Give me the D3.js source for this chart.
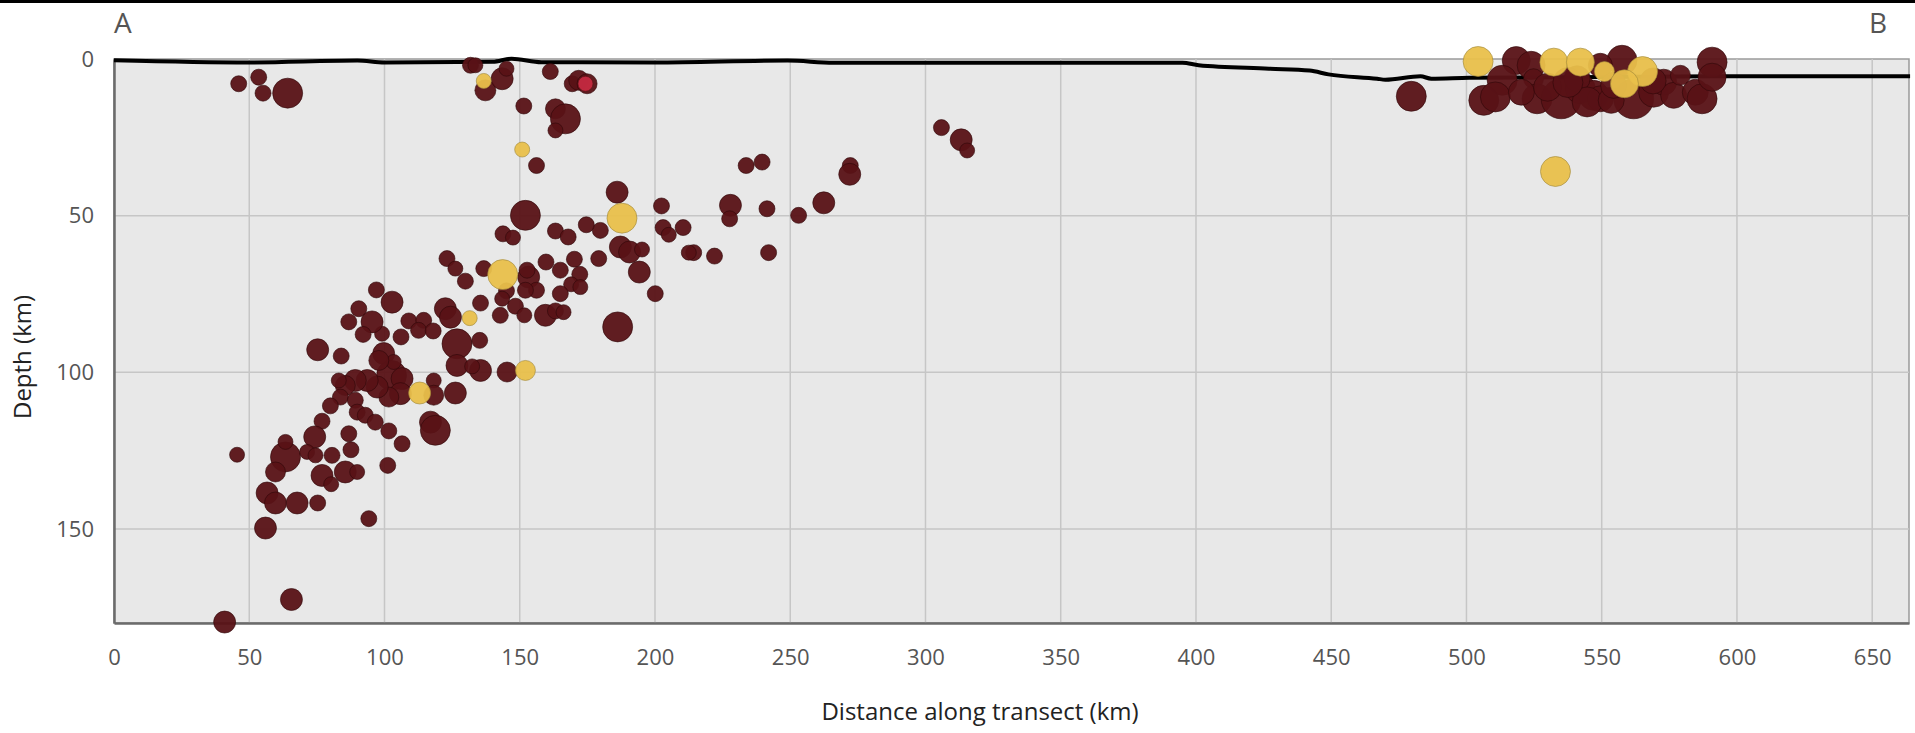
<!DOCTYPE html>
<html>
<head>
<meta charset="utf-8">
<script src="https://cdn.jsdelivr.net/npm/d3@7"></script>
<style>
  body { margin: 0; background: #fff; }
  #chart text { font-family: "Open Sans", sans-serif; }
</style>
</head>
<body>
<div id="chart"></div>
<script>
const xTicks = [0, 50, 100, 150, 200, 250, 300, 350, 400, 450, 500, 550, 600, 650];
const yTicks = [0, 50, 100, 150];

// surface profile along the transect: [km, depth]
const surfaceProfile = [
  [0, 0.4], [50, 1.1], [90, 0.5], [100, 1.1], [140, 0.9], [147, -0.1], [158, 1.0],
  [200, 1.1], [249, 0.5], [266, 1.2], [395, 1.2], [401, 2.0], [427, 3.1], [442, 3.7],
  [449, 4.9], [467, 6.3], [470, 6.6], [483, 5.5], [487, 6.3], [501, 6.0], [592, 5.5],
  [664, 5.5]
];

// earthquakes: [km, depth, magnitude]
const darkQuakes = [
  [46.1, 7.9, 4.6], [53.5, 5.8, 4.6], [55.1, 10.9, 4.6], [64.2, 10.9, 6.0],
  [131.8, 2.0, 4.6], [133.6, 2.0, 4.5], [137.3, 10.0, 5.1], [143.5, 6.3, 5.2],
  [145.1, 3.1, 4.5], [161.3, 4.0, 4.6], [151.5, 15.0, 4.6], [169.4, 7.9, 4.6],
  [171.8, 6.8, 5.0], [174.9, 7.9, 5.0], [163.2, 15.9, 5.0], [166.9, 19.1, 6.0],
  [163.2, 22.8, 4.5], [156.2, 34.0, 4.6], [186.0, 42.5, 5.2],
  [305.9, 21.9, 4.6], [313.2, 25.8, 5.2], [315.4, 29.2, 4.5], [272.2, 34.0, 4.6],
  [272.0, 36.8, 5.2], [233.7, 34.0, 4.6], [239.6, 32.9, 4.6], [262.4, 45.9, 5.2],
  [253.1, 49.9, 4.6], [241.4, 47.8, 4.6], [227.9, 46.7, 5.2], [227.6, 51.0, 4.6],
  [242.0, 61.8, 4.6], [222.0, 62.9, 4.6], [214.3, 61.8, 4.6], [212.5, 61.8, 4.5],
  [202.4, 46.9, 4.6], [203.0, 53.8, 4.6], [205.1, 56.1, 4.5], [210.4, 53.8, 4.6],
  [200.1, 74.9, 4.6], [179.8, 54.7, 4.6], [174.6, 52.9, 4.6], [187.2, 60.0, 5.2],
  [190.6, 61.6, 5.2], [195.2, 60.8, 4.5], [194.2, 68.0, 5.2], [179.2, 63.7, 4.6],
  [152.1, 49.9, 6.0], [143.8, 55.8, 4.6], [147.5, 57.0, 4.5], [163.2, 54.9, 4.6],
  [167.9, 56.8, 4.6], [186.2, 85.5, 6.0], [123.1, 63.7, 4.6], [126.2, 66.9, 4.5],
  [129.9, 70.9, 4.6], [136.7, 66.9, 4.6], [153.3, 69.6, 5.2], [152.7, 67.4, 4.6],
  [156.2, 73.8, 4.6], [152.1, 73.8, 4.6], [145.1, 74.0, 4.6], [143.5, 76.5, 4.5],
  [148.4, 78.9, 4.6], [151.7, 81.8, 4.5], [142.8, 81.8, 4.6], [135.5, 77.9, 4.6],
  [159.7, 64.8, 4.6], [165.0, 67.4, 4.6], [170.2, 63.9, 4.6], [172.2, 68.7, 4.6],
  [169.0, 71.9, 4.5], [172.4, 72.8, 4.5], [165.0, 74.9, 4.6], [159.5, 81.8, 5.2],
  [163.2, 80.4, 4.6], [166.2, 80.8, 4.5], [102.8, 77.6, 5.2], [122.5, 79.7, 5.2],
  [109.0, 83.6, 4.6], [114.5, 83.4, 4.6], [112.6, 86.6, 4.6], [118.0, 86.8, 4.6],
  [106.1, 88.7, 4.6], [124.4, 82.4, 5.2], [126.8, 90.9, 6.0], [135.2, 89.8, 4.6],
  [145.3, 99.9, 5.0], [126.8, 97.8, 5.2], [135.5, 99.4, 5.2], [99.7, 94.0, 5.2],
  [99.1, 87.7, 4.5], [102.6, 101.0, 6.0], [103.4, 96.7, 4.5], [97.0, 73.7, 4.6],
  [90.5, 79.7, 4.6], [95.4, 83.9, 5.2], [86.8, 83.9, 4.6], [92.1, 87.9, 4.6],
  [75.3, 92.8, 5.2], [84.0, 94.8, 4.6], [132.4, 98.1, 4.5], [97.9, 96.2, 5.0],
  [106.5, 102.0, 5.2], [105.9, 106.8, 5.2], [101.6, 107.9, 5.0], [97.3, 104.7, 5.2],
  [93.6, 102.6, 5.2], [89.2, 102.6, 5.2], [85.5, 104.2, 5.0], [83.1, 102.6, 4.5],
  [118.2, 102.6, 4.5], [118.2, 107.3, 5.0], [126.2, 106.6, 5.2], [83.7, 107.9, 4.6],
  [89.2, 108.9, 4.6], [80.0, 110.7, 4.6], [89.9, 112.7, 4.6], [92.9, 113.7, 4.6],
  [96.6, 115.9, 4.6], [117.0, 115.9, 5.2], [118.8, 118.5, 6.0], [76.9, 115.6, 4.6],
  [101.6, 118.7, 4.6], [106.5, 122.8, 4.6], [74.2, 120.6, 5.2], [86.8, 119.6, 4.6],
  [87.6, 124.7, 4.6], [63.4, 127.0, 6.0], [45.5, 126.3, 4.5], [80.6, 126.5, 4.6],
  [71.4, 125.4, 4.5], [63.4, 122.2, 4.5], [101.2, 129.7, 4.6],
  [74.5, 126.5, 4.5], [59.7, 131.8, 5.0], [56.6, 138.5, 5.2], [59.7, 141.7, 5.2],
  [67.7, 141.7, 5.2], [75.3, 141.7, 4.6], [56.0, 149.7, 5.2], [94.2, 146.7, 4.6],
  [65.6, 172.5, 5.2], [40.9, 179.7, 5.2], [76.9, 132.9, 5.2], [80.3, 135.7, 4.5],
  [85.5, 131.8, 5.2], [89.9, 131.8, 4.5],
  [479.6, 11.9, 6.0], [518.4, 0.5, 5.8], [523.9, 2.0, 5.8], [513.2, 6.8, 6.0],
  [506.4, 13.2, 6.0], [510.7, 12.1, 6.0], [524.8, 6.3, 5.0], [526.1, 12.7, 6.0],
  [535.0, 12.7, 7.0], [542.1, 9.5, 6.0], [547.0, 11.6, 6.0], [549.5, 12.7, 5.6],
  [557.5, 0.4, 6.0], [561.8, 12.7, 7.0], [569.2, 10.6, 6.0], [572.9, 7.4, 5.6],
  [576.6, 11.6, 5.6], [579.1, 5.2, 5.0], [584.6, 10.6, 5.6], [587.1, 12.7, 6.0],
  [590.8, 1.0, 6.0], [590.8, 5.8, 5.8], [540.9, 6.3, 5.6], [544.6, 13.7, 6.0],
  [553.5, 13.2, 5.6], [520.3, 10.6, 5.6], [549.5, 2.0, 5.4], [569.0, 7.0, 5.6],
  [554.4, 8.4, 5.6], [530.0, 9.0, 5.8], [537.5, 7.5, 6.0]
];

const yellowQuakes = [
  [136.7, 7.0, 4.5], [150.9, 28.9, 4.5], [187.8, 50.8, 6.0], [143.7, 68.8, 6.0],
  [131.5, 82.7, 4.5], [152.1, 99.4, 5.0], [113.0, 106.6, 5.2],
  [504.3, 0.8, 6.0], [532.9, 35.9, 6.0], [532.3, 1.0, 5.8], [542.1, 1.0, 5.8],
  [551.0, 4.0, 5.0], [565.1, 4.0, 6.0], [558.4, 7.9, 5.8]
];

const redQuakes = [
  [174.3, 7.9, 4.5]
];

function draw() {
  const w = 1915, h = 733;
  const margin = { top: 59, right: 6, bottom: 110, left: 114 };
  const innerW = w - margin.left - margin.right;
  const innerH = h - margin.top - margin.bottom;

  const xScale = d3.scaleLinear().domain([0, 663.6]).range([0, innerW]);
  const yScale = d3.scaleLinear().domain([0, 180]).range([0, innerH]);
  const rScale = d3.scaleLinear().domain([4.5, 7]).range([7.5, 20]);

  const svg = d3.select("#chart").append("svg")
    .attr("width", w)
    .attr("height", h);

  // black rule across the top
  svg.append("rect")
    .attr("x", 0).attr("y", 0)
    .attr("width", w).attr("height", 3)
    .attr("fill", "#000");

  svg.append("text")
    .attr("x", margin.left).attr("y", 33)
    .attr("fill", "#555")
    .style("font-size", "28px")
    .text("A");

  svg.append("text")
    .attr("x", 1887).attr("y", 33)
    .attr("text-anchor", "end")
    .attr("fill", "#555")
    .style("font-size", "28px")
    .text("B");

  const g = svg.append("g")
    .attr("transform", `translate(${margin.left},${margin.top})`);

  g.append("rect")
    .attr("width", innerW).attr("height", innerH)
    .attr("fill", "#e8e8e8")
    .attr("stroke", "#9a9a9a")
    .attr("stroke-width", 1.5);

  // grid
  g.append("g")
    .selectAll("line")
    .data(xTicks.filter(d => d > 0))
    .join("line")
    .attr("x1", d => xScale(d)).attr("x2", d => xScale(d))
    .attr("y1", 0).attr("y2", innerH)
    .attr("stroke", "#c6c6c6")
    .attr("stroke-width", 1.5);

  g.append("g")
    .selectAll("line")
    .data(yTicks.filter(d => d > 0))
    .join("line")
    .attr("x1", 0).attr("x2", innerW)
    .attr("y1", d => yScale(d)).attr("y2", d => yScale(d))
    .attr("stroke", "#c6c6c6")
    .attr("stroke-width", 1.5);

  // axes
  const xAxis = g.append("g")
    .attr("transform", `translate(0,${innerH})`)
    .call(d3.axisBottom(xScale).tickValues(xTicks).tickSize(0).tickPadding(26));
  xAxis.select(".domain").attr("stroke", "#6b6b6b").attr("stroke-width", 2.5);
  xAxis.selectAll("text").attr("fill", "#555").style("font-size", "22px");

  const yAxis = g.append("g")
    .call(d3.axisLeft(yScale).tickValues(yTicks).tickSize(0).tickPadding(20));
  yAxis.select(".domain").attr("stroke", "#6b6b6b").attr("stroke-width", 2.5);
  yAxis.selectAll("text").attr("fill", "#555").style("font-size", "22px");

  // surface line
  const line = d3.line()
    .x(d => xScale(d[0]))
    .y(d => yScale(d[1]))
    .curve(d3.curveMonotoneX);

  g.append("path")
    .datum(surfaceProfile)
    .attr("d", line)
    .attr("fill", "none")
    .attr("stroke", "#000")
    .attr("stroke-width", 4)
    .attr("stroke-linejoin", "round");

  // quakes
  const groups = [
    { data: darkQuakes, fill: "#591216", stroke: "#2e0709" },
    { data: yellowQuakes, fill: "#e9c04b", stroke: "#9c8538" },
    { data: redQuakes, fill: "#c42a40", stroke: "#5a1216" }
  ];

  groups.forEach(grp => {
    g.append("g")
      .selectAll("circle")
      .data(grp.data)
      .join("circle")
      .attr("cx", d => xScale(d[0]))
      .attr("cy", d => yScale(d[1]))
      .attr("r", d => rScale(d[2]))
      .attr("fill", grp.fill)
      .attr("fill-opacity", 0.95)
      .attr("stroke", grp.stroke)
      .attr("stroke-opacity", 0.6)
      .attr("stroke-width", 1);
  });

  // axis titles
  svg.append("text")
    .attr("x", 980).attr("y", 720)
    .attr("text-anchor", "middle")
    .attr("fill", "#222")
    .style("font-size", "24px")
    .text("Distance along transect (km)");

  svg.append("text")
    .attr("transform", "rotate(-90)")
    .attr("x", -357).attr("y", 31)
    .attr("text-anchor", "middle")
    .attr("fill", "#222")
    .style("font-size", "24px")
    .text("Depth (km)");
}

draw();
</script>
</body>
</html>
